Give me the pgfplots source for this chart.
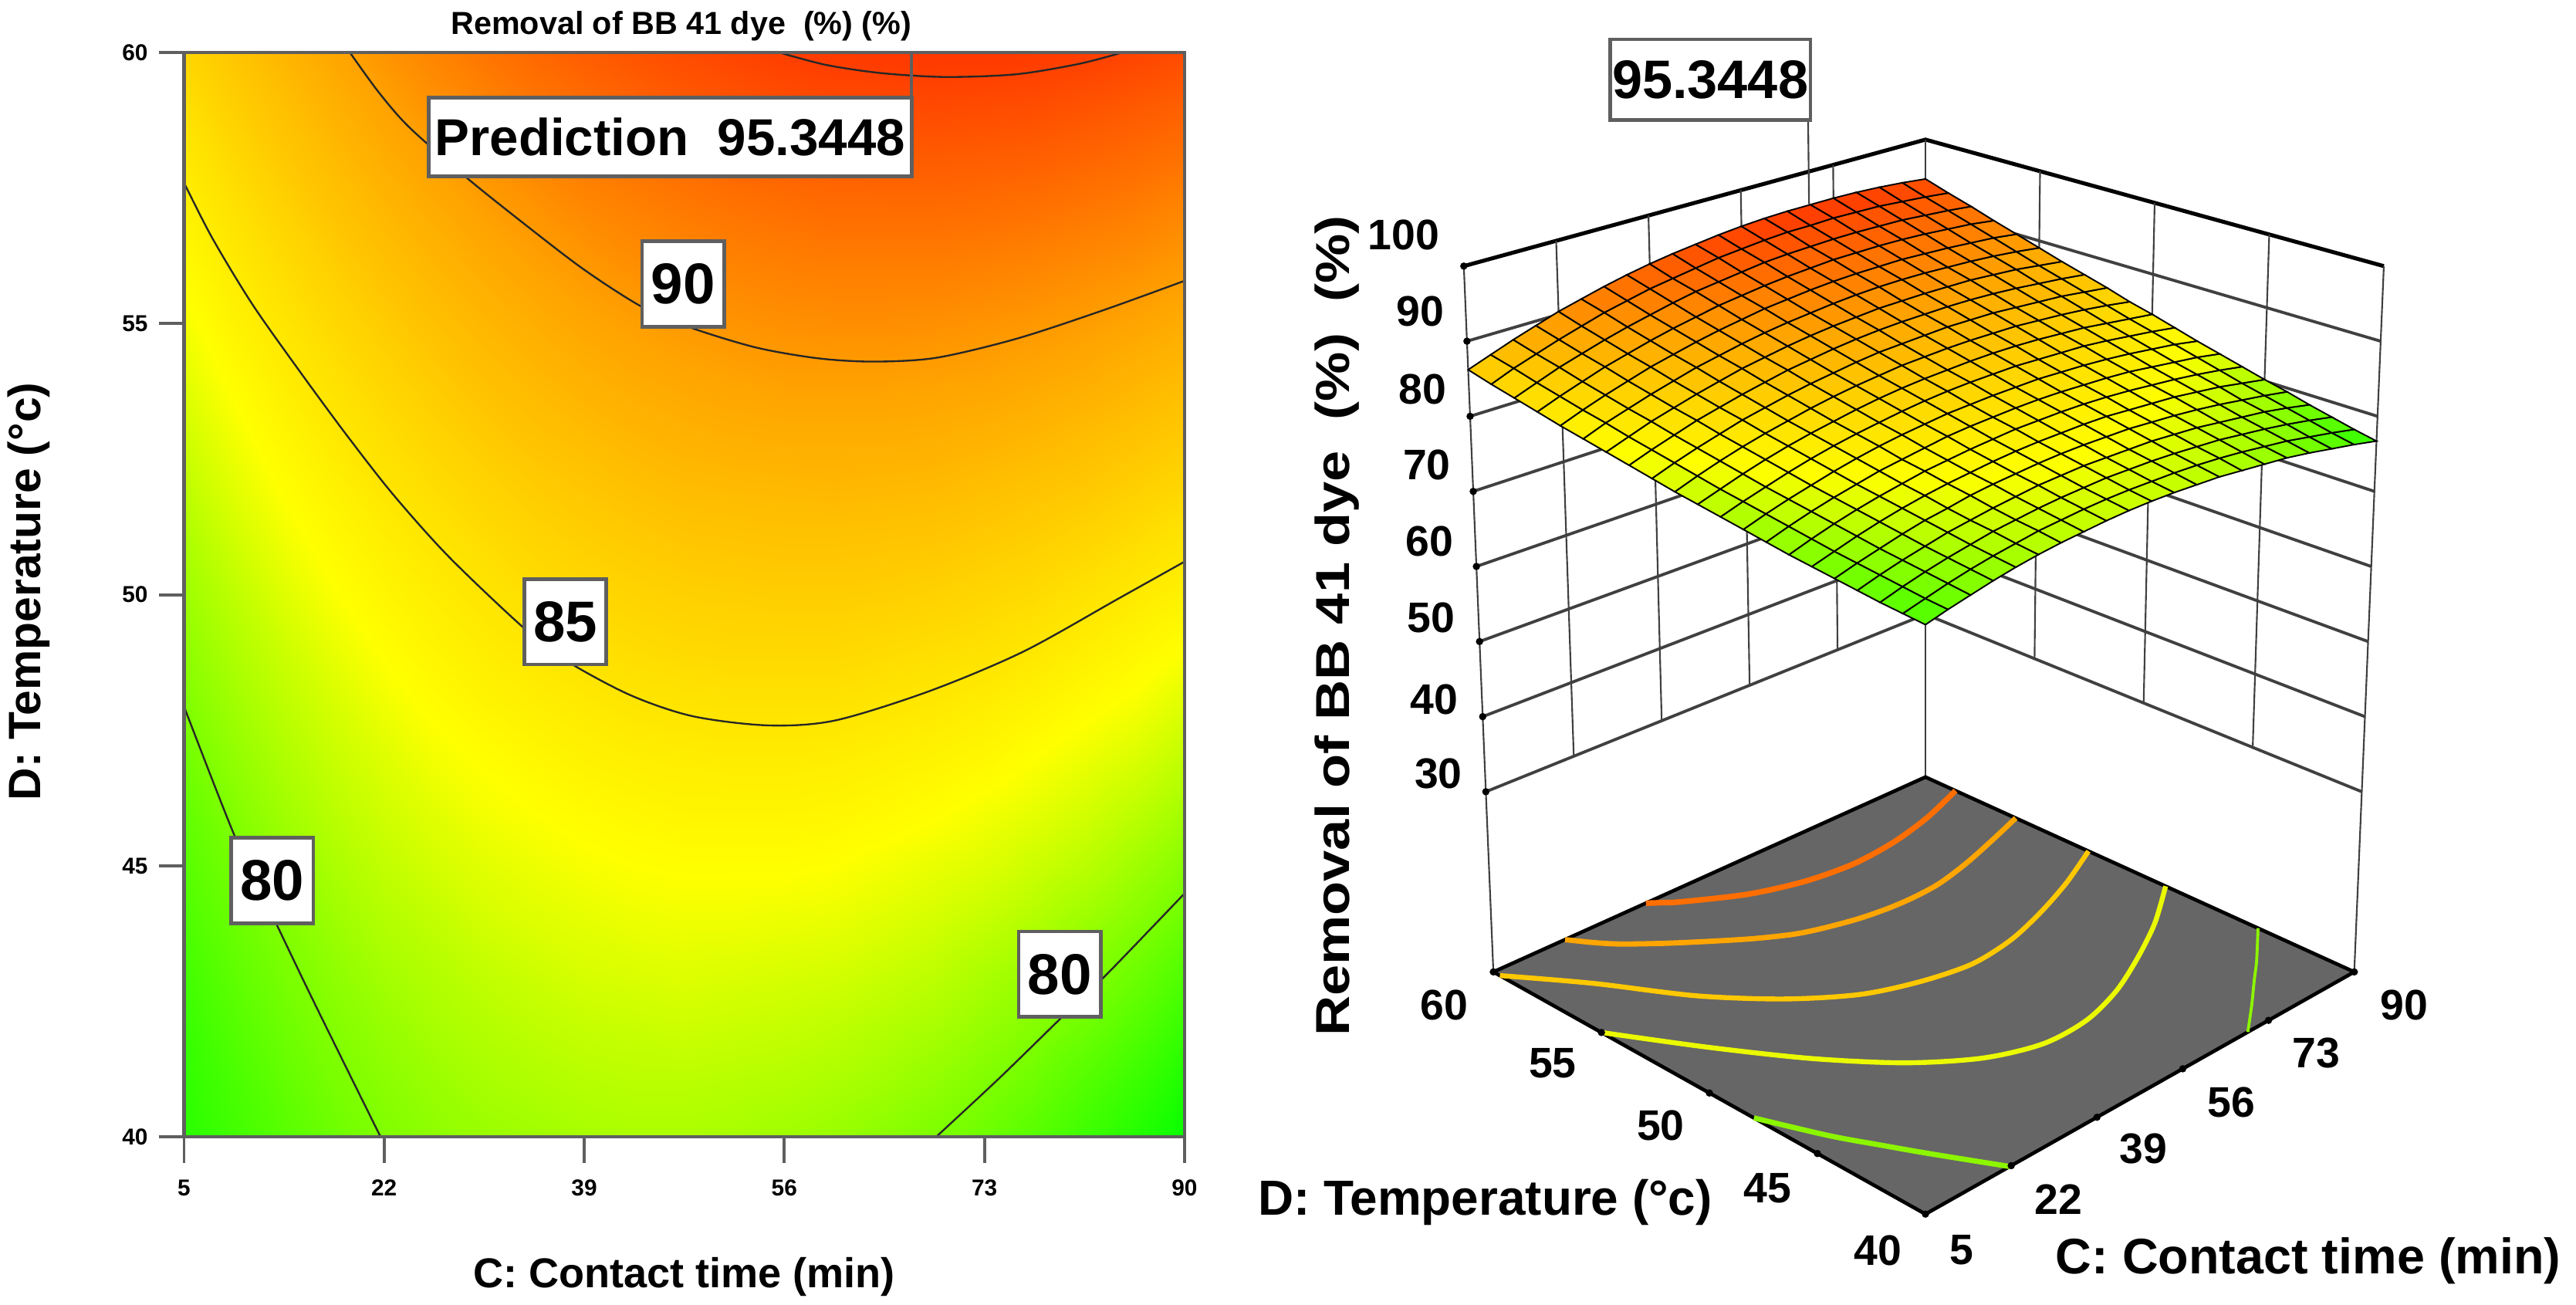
\documentclass[border=0pt]{standalone}
\usepackage{fontspec}
\setmainfont{Liberation Sans}
\usepackage{pgfplots}
\usepackage{pgfplotstable}
\pgfplotsset{compat=1.18}

% response surface: contact time, temperature, removal
\pgfplotstableread[row sep=\\]{
C D R\\
5 40 77.6\\ 9.25 40 78.3\\ 13.5 40 78.9\\ 17.75 40 79.5\\ 22 40 80.0\\ 26.25 40 80.4\\ 30.5 40 80.7\\ 34.75 40 80.9\\ 39 40 81.1\\ 43.25 40 81.2\\ 47.5 40 81.2\\ 51.75 40 81.1\\ 56 40 80.9\\ 60.25 40 80.7\\ 64.5 40 80.3\\ 68.75 40 79.9\\ 73 40 79.5\\ 77.25 40 78.9\\ 81.5 40 78.2\\ 85.75 40 77.5\\ 90 40 76.7\\
5 41 77.8\\ 9.25 41 78.5\\ 13.5 41 79.2\\ 17.75 41 79.8\\ 22 41 80.3\\ 26.25 41 80.7\\ 30.5 41 81.1\\ 34.75 41 81.3\\ 39 41 81.5\\ 43.25 41 81.6\\ 47.5 41 81.6\\ 51.75 41 81.5\\ 56 41 81.4\\ 60.25 41 81.2\\ 64.5 41 80.9\\ 68.75 41 80.5\\ 73 41 80.0\\ 77.25 41 79.5\\ 81.5 41 78.8\\ 85.75 41 78.1\\ 90 41 77.3\\
5 42 78.0\\ 9.25 42 78.8\\ 13.5 42 79.5\\ 17.75 42 80.1\\ 22 42 80.6\\ 26.25 42 81.1\\ 30.5 42 81.4\\ 34.75 42 81.7\\ 39 42 81.9\\ 43.25 42 82.0\\ 47.5 42 82.1\\ 51.75 42 82.0\\ 56 42 81.9\\ 60.25 42 81.7\\ 64.5 42 81.4\\ 68.75 42 81.1\\ 73 42 80.6\\ 77.25 42 80.1\\ 81.5 42 79.5\\ 85.75 42 78.8\\ 90 42 78.0\\
5 43 78.3\\ 9.25 43 79.1\\ 13.5 43 79.8\\ 17.75 43 80.4\\ 22 43 81.0\\ 26.25 43 81.4\\ 30.5 43 81.8\\ 34.75 43 82.1\\ 39 43 82.4\\ 43.25 43 82.5\\ 47.5 43 82.6\\ 51.75 43 82.5\\ 56 43 82.4\\ 60.25 43 82.3\\ 64.5 43 82.0\\ 68.75 43 81.7\\ 73 43 81.2\\ 77.25 43 80.7\\ 81.5 43 80.2\\ 85.75 43 79.5\\ 90 43 78.7\\
5 44 78.6\\ 9.25 44 79.4\\ 13.5 44 80.1\\ 17.75 44 80.8\\ 22 44 81.4\\ 26.25 44 81.8\\ 30.5 44 82.3\\ 34.75 44 82.6\\ 39 44 82.8\\ 43.25 44 83.0\\ 47.5 44 83.1\\ 51.75 44 83.1\\ 56 44 83.0\\ 60.25 44 82.9\\ 64.5 44 82.6\\ 68.75 44 82.3\\ 73 44 81.9\\ 77.25 44 81.4\\ 81.5 44 80.8\\ 85.75 44 80.2\\ 90 44 79.5\\
5 45 78.9\\ 9.25 45 79.7\\ 13.5 45 80.5\\ 17.75 45 81.2\\ 22 45 81.8\\ 26.25 45 82.3\\ 30.5 45 82.7\\ 34.75 45 83.0\\ 39 45 83.3\\ 43.25 45 83.5\\ 47.5 45 83.6\\ 51.75 45 83.6\\ 56 45 83.6\\ 60.25 45 83.5\\ 64.5 45 83.2\\ 68.75 45 82.9\\ 73 45 82.6\\ 77.25 45 82.1\\ 81.5 45 81.6\\ 85.75 45 80.9\\ 90 45 80.2\\
5 46 79.2\\ 9.25 46 80.1\\ 13.5 46 80.9\\ 17.75 46 81.6\\ 22 46 82.2\\ 26.25 46 82.7\\ 30.5 46 83.2\\ 34.75 46 83.5\\ 39 46 83.8\\ 43.25 46 84.0\\ 47.5 46 84.2\\ 51.75 46 84.2\\ 56 46 84.2\\ 60.25 46 84.1\\ 64.5 46 83.9\\ 68.75 46 83.6\\ 73 46 83.2\\ 77.25 46 82.8\\ 81.5 46 82.3\\ 85.75 46 81.7\\ 90 46 81.0\\
5 47 79.6\\ 9.25 47 80.5\\ 13.5 47 81.3\\ 17.75 47 82.0\\ 22 47 82.6\\ 26.25 47 83.2\\ 30.5 47 83.6\\ 34.75 47 84.0\\ 39 47 84.4\\ 43.25 47 84.6\\ 47.5 47 84.7\\ 51.75 47 84.8\\ 56 47 84.8\\ 60.25 47 84.7\\ 64.5 47 84.5\\ 68.75 47 84.3\\ 73 47 84.0\\ 77.25 47 83.5\\ 81.5 47 83.0\\ 85.75 47 82.5\\ 90 47 81.8\\
5 48 80.0\\ 9.25 48 80.9\\ 13.5 48 81.7\\ 17.75 48 82.4\\ 22 48 83.1\\ 26.25 48 83.7\\ 30.5 48 84.2\\ 34.75 48 84.6\\ 39 48 84.9\\ 43.25 48 85.2\\ 47.5 48 85.3\\ 51.75 48 85.4\\ 56 48 85.4\\ 60.25 48 85.4\\ 64.5 48 85.2\\ 68.75 48 85.0\\ 73 48 84.7\\ 77.25 48 84.3\\ 81.5 48 83.8\\ 85.75 48 83.3\\ 90 48 82.6\\
5 49 80.4\\ 9.25 49 81.3\\ 13.5 49 82.1\\ 17.75 49 82.9\\ 22 49 83.6\\ 26.25 49 84.2\\ 30.5 49 84.7\\ 34.75 49 85.1\\ 39 49 85.5\\ 43.25 49 85.8\\ 47.5 49 86.0\\ 51.75 49 86.1\\ 56 49 86.1\\ 60.25 49 86.1\\ 64.5 49 85.9\\ 68.75 49 85.7\\ 73 49 85.5\\ 77.25 49 85.1\\ 81.5 49 84.6\\ 85.75 49 84.1\\ 90 49 83.5\\
5 50 80.8\\ 9.25 50 81.7\\ 13.5 50 82.6\\ 17.75 50 83.4\\ 22 50 84.1\\ 26.25 50 84.7\\ 30.5 50 85.2\\ 34.75 50 85.7\\ 39 50 86.1\\ 43.25 50 86.4\\ 47.5 50 86.6\\ 51.75 50 86.7\\ 56 50 86.8\\ 60.25 50 86.8\\ 64.5 50 86.7\\ 68.75 50 86.5\\ 73 50 86.2\\ 77.25 50 85.9\\ 81.5 50 85.4\\ 85.75 50 84.9\\ 90 50 84.4\\
5 51 81.2\\ 9.25 51 82.2\\ 13.5 51 83.1\\ 17.75 51 83.9\\ 22 51 84.6\\ 26.25 51 85.2\\ 30.5 51 85.8\\ 34.75 51 86.3\\ 39 51 86.7\\ 43.25 51 87.0\\ 47.5 51 87.3\\ 51.75 51 87.4\\ 56 51 87.5\\ 60.25 51 87.5\\ 64.5 51 87.4\\ 68.75 51 87.3\\ 73 51 87.0\\ 77.25 51 86.7\\ 81.5 51 86.3\\ 85.75 51 85.8\\ 90 51 85.2\\
5 52 81.7\\ 9.25 52 82.7\\ 13.5 52 83.6\\ 17.75 52 84.4\\ 22 52 85.2\\ 26.25 52 85.8\\ 30.5 52 86.4\\ 34.75 52 86.9\\ 39 52 87.3\\ 43.25 52 87.7\\ 47.5 52 88.0\\ 51.75 52 88.1\\ 56 52 88.2\\ 60.25 52 88.3\\ 64.5 52 88.2\\ 68.75 52 88.1\\ 73 52 87.8\\ 77.25 52 87.5\\ 81.5 52 87.2\\ 85.75 52 86.7\\ 90 52 86.2\\
5 53 82.2\\ 9.25 53 83.2\\ 13.5 53 84.1\\ 17.75 53 85.0\\ 22 53 85.7\\ 26.25 53 86.4\\ 30.5 53 87.0\\ 34.75 53 87.6\\ 39 53 88.0\\ 43.25 53 88.4\\ 47.5 53 88.7\\ 51.75 53 88.9\\ 56 53 89.0\\ 60.25 53 89.0\\ 64.5 53 89.0\\ 68.75 53 88.9\\ 73 53 88.7\\ 77.25 53 88.4\\ 81.5 53 88.0\\ 85.75 53 87.6\\ 90 53 87.1\\
5 54 82.7\\ 9.25 54 83.7\\ 13.5 54 84.7\\ 17.75 54 85.5\\ 22 54 86.3\\ 26.25 54 87.0\\ 30.5 54 87.7\\ 34.75 54 88.2\\ 39 54 88.7\\ 43.25 54 89.1\\ 47.5 54 89.4\\ 51.75 54 89.6\\ 56 54 89.8\\ 60.25 54 89.8\\ 64.5 54 89.8\\ 68.75 54 89.7\\ 73 54 89.6\\ 77.25 54 89.3\\ 81.5 54 89.0\\ 85.75 54 88.5\\ 90 54 88.0\\
5 55 83.2\\ 9.25 55 84.3\\ 13.5 55 85.2\\ 17.75 55 86.1\\ 22 55 86.9\\ 26.25 55 87.7\\ 30.5 55 88.3\\ 34.75 55 88.9\\ 39 55 89.4\\ 43.25 55 89.8\\ 47.5 55 90.1\\ 51.75 55 90.4\\ 56 55 90.6\\ 60.25 55 90.7\\ 64.5 55 90.7\\ 68.75 55 90.6\\ 73 55 90.4\\ 77.25 55 90.2\\ 81.5 55 89.9\\ 85.75 55 89.5\\ 90 55 89.0\\
5 56 83.7\\ 9.25 56 84.8\\ 13.5 56 85.8\\ 17.75 56 86.7\\ 22 56 87.6\\ 26.25 56 88.3\\ 30.5 56 89.0\\ 34.75 56 89.6\\ 39 56 90.1\\ 43.25 56 90.6\\ 47.5 56 90.9\\ 51.75 56 91.2\\ 56 56 91.4\\ 60.25 56 91.5\\ 64.5 56 91.5\\ 68.75 56 91.5\\ 73 56 91.3\\ 77.25 56 91.1\\ 81.5 56 90.8\\ 85.75 56 90.5\\ 90 56 90.0\\
5 57 84.3\\ 9.25 57 85.4\\ 13.5 57 86.4\\ 17.75 57 87.4\\ 22 57 88.2\\ 26.25 57 89.0\\ 30.5 57 89.7\\ 34.75 57 90.3\\ 39 57 90.9\\ 43.25 57 91.3\\ 47.5 57 91.7\\ 51.75 57 92.0\\ 56 57 92.2\\ 60.25 57 92.4\\ 64.5 57 92.4\\ 68.75 57 92.4\\ 73 57 92.3\\ 77.25 57 92.1\\ 81.5 57 91.8\\ 85.75 57 91.5\\ 90 57 91.0\\
5 58 84.9\\ 9.25 58 86.0\\ 13.5 58 87.1\\ 17.75 58 88.0\\ 22 58 88.9\\ 26.25 58 89.7\\ 30.5 58 90.4\\ 34.75 58 91.1\\ 39 58 91.7\\ 43.25 58 92.1\\ 47.5 58 92.5\\ 51.75 58 92.9\\ 56 58 93.1\\ 60.25 58 93.2\\ 64.5 58 93.3\\ 68.75 58 93.3\\ 73 58 93.2\\ 77.25 58 93.1\\ 81.5 58 92.8\\ 85.75 58 92.5\\ 90 58 92.1\\
5 59 85.5\\ 9.25 59 86.7\\ 13.5 59 87.7\\ 17.75 59 88.7\\ 22 59 89.6\\ 26.25 59 90.5\\ 30.5 59 91.2\\ 34.75 59 91.9\\ 39 59 92.4\\ 43.25 59 92.9\\ 47.5 59 93.4\\ 51.75 59 93.7\\ 56 59 94.0\\ 60.25 59 94.2\\ 64.5 59 94.2\\ 68.75 59 94.3\\ 73 59 94.2\\ 77.25 59 94.1\\ 81.5 59 93.8\\ 85.75 59 93.5\\ 90 59 93.1\\
5 60 86.2\\ 9.25 60 87.3\\ 13.5 60 88.4\\ 17.75 60 89.4\\ 22 60 90.4\\ 26.25 60 91.2\\ 30.5 60 92.0\\ 34.75 60 92.7\\ 39 60 93.3\\ 43.25 60 93.8\\ 47.5 60 94.2\\ 51.75 60 94.6\\ 56 60 94.9\\ 60.25 60 95.1\\ 64.5 60 95.2\\ 68.75 60 95.2\\ 73 60 95.2\\ 77.25 60 95.1\\ 81.5 60 94.9\\ 85.75 60 94.6\\ 90 60 94.2\\
}\surfdata

% contour lines
\pgfplotstableread{
C D R
19.1 60 90
21.5 59.28 90
24.1 58.63 90
28.8 57.73 90
33.5 56.91 90
38.9 56.01 90
43.9 55.31 90
48 54.93 90
53.6 54.56 90
58.9 54.36 90
63.6 54.3 90
68.9 54.37 90
75.7 54.72 90
83 55.24 90
90 55.79 90
}\ctninety
\pgfplotstableread{
C D R
5 47.94 80
9.4 45.5 80
12.8 43.95 80
16.1 42.46 80
21.7 40 80
}\cteightyL
\pgfplotstableread{
C D R
68.9 40 80
74.3 41.09 80
79.5 42.19 80
83.4 43 80
90 44.49 80
}\cteightyR

\definecolor{framegray}{RGB}{95,95,95}
\definecolor{floorgray}{RGB}{102,102,102}

% corners of the box of the 3-D panel, in pixels of the picture
\tikzset{declare function={
  ss(\x)=(\x-5)/85;
  tt(\y)=(\y-40)/20;
  hh(\z)=(\z-6)/94;
  pu(\x,\y,\z)=1172+ss(\x)*(1-tt(\y))*(261+18*hh(\z))-(1-ss(\x))*tt(\y)*(263+18*hh(\z));
  pv(\x,\y,\z)=794-((1-ss(\x))*(1-tt(\y))*(739-471*hh(\z))+(ss(\x)*(1-tt(\y))+(1-ss(\x))*tt(\y))*(591.6-429.6*hh(\z))+ss(\x)*tt(\y)*(473-388*hh(\z)));
},
  box/.style={draw=framegray,line width=1.1pt,fill=white,text=black,inner sep=0pt,font=\bfseries\fontsize{17.5}{18}\selectfont,minimum width=25pt,minimum height=26pt},
}
\pgfplotsset{
  /pgfplots/table/proj/.style={
    x expr={pu(\thisrow{C},\thisrow{D},\thisrow{R})},
    y expr={pv(\thisrow{C},\thisrow{D},\thisrow{R})},
    z=R},
  /pgfplots/table/onfloor/.style={
    x expr={pu(\thisrow{C},\thisrow{D},6)},
    y expr={pv(\thisrow{C},\thisrow{D},6)},
    z=R},
  colormap={removal}{rgb255(0pt)=(0,255,0) rgb255(7pt)=(255,255,0) rgb255(13pt)=(255,165,0) rgb255(19pt)=(255,50,0)},
  wall/.style={black!75,line width=0.9pt,mark=none,forget plot},
  post/.style={black!75,line width=0.5pt,mark=none,forget plot},
  dots/.style={only marks,mark=*,mark size=0.9pt,black,forget plot},
  ctr/.style={black!85,line width=0.55pt,smooth,mark=none,forget plot},
  tk/.style={framegray,line width=0.9pt,mark=none,forget plot},
}
\newcommand{\tl}[1]{\bfseries\fontsize{#1}{#1}\selectfont}

\begin{document}
\begin{tikzpicture}
\path[use as bounding box] (0,0) rectangle (784pt,397pt);

% 2-D contour panel
\begin{axis}[
  at={(56pt,51pt)},anchor=south west,
  scale only axis,width=304.5pt,height=330pt,
  xmin=5,xmax=90,ymin=40,ymax=60,
  xtick={5,22,39,56,73,90},ytick={40,45,50,55,60},
  xtick pos=bottom,ytick pos=left,
  tick align=outside,
  major tick length=7.5pt,
  axis on top,
  clip=false,
  axis line style={framegray,line width=1pt},
  tick style={framegray,line width=0.9pt},
  tick label style={font=\tl{7},/pgf/number format/assume math mode=true},
  xticklabel style={yshift=-2pt},
  point meta min=0,point meta max=19,
  colormap name=removal,
  title={Removal of BB 41 dye\ \ (\%) (\%)},
  title style={font=\tl{9.7},at={(axis description cs:0.497,1)},anchor=center,yshift=2pt,inner sep=0pt},
  xlabel={C: Contact time (min)},
  xlabel style={font=\tl{12.7},at={(axis description cs:0.5,-0.129)},anchor=center},
  ylabel={D: Temperature (°c)},
  ylabel style={font=\tl{13.8},at={(axis description cs:-0.155,0.503)},anchor=center},
]
\addplot[surf,shader=interp,mesh/rows=21,point meta={\thisrow{R}-76.5}]
  table[x=C,y=D] {\surfdata};
\addplot[ctr] table[x=C,y=D] {\ctninety};
\addplot[ctr] table[x=C,y=D] {\cteightyL};
\addplot[ctr] table[x=C,y=D] {\cteightyR};
\addplot[ctr] table[x=C,y=D] {
C D R
55.6 60 95
59.6 59.77 95
64.3 59.62 95
69.7 59.55 95
75.7 59.6 95
81 59.79 95
84.7 60 95
};
\addplot[ctr] table[x=C,y=D] {
C D R
5 57.6 85
7.4 56.58 85
10.8 55.36 85
14.8 54.13 85
18.8 52.95 85
22.8 51.84 85
27.5 50.7 85
33.8 49.4 85
37.5 48.78 85
42.9 48.15 85
48.2 47.76 85
54.6 47.59 85
60.3 47.68 85
68.3 48.22 85
76.3 48.95 85
84.4 49.93 85
90 50.61 85
};
\addplot[framegray,line width=1pt,mark=none,forget plot] table[x=C,y=D] {
C D R
66.8 60 95.34
66.8 59.15 95.34
};
\node[box] at (axis cs:47.4,55.73) {90};
\node[box] at (axis cs:37.4,49.5) {85};
\node[box] at (axis cs:12.5,44.73) {80};
\node[box] at (axis cs:79.4,43) {80};
\node[box,minimum width=147pt,minimum height=24pt,font=\bfseries\fontsize{15.8}{16}\selectfont] at (axis cs:46.3,58.44) {Prediction\ \ 95.3448};
\end{axis}

% 3-D panel: the box is carried to the page by pu and pv
\begin{axis}[
  at={(0pt,0pt)},anchor=south west,
  scale only axis,width=784pt,height=397pt,
  view={0}{90},hide axis,clip=false,
  xmin=0,xmax=1568,ymin=0,ymax=794,
  point meta min=0,point meta max=20,
  colormap name=removal,
]
% tick strokes of the contour panel, drawn last so that nothing covers them
\pgfplotsinvokeforeach{112,233.8,355.6,477.4,599.2,721}{
  \addplot3[tk] table[x=U,y=V,z=R,row sep=\\] {U V R\\ #1 102 0\\ #1 86 0\\};
}
\pgfplotsinvokeforeach{102,267,432,597,762}{
  \addplot3[tk] table[x=U,y=V,z=R,row sep=\\] {U V R\\ 112 #1 0\\ 98 #1 0\\};
}
\pgfplotsinvokeforeach{30,40,50,60,70,80,90}{
  \addplot3[wall] table[proj,row sep=\\] {C D R\\ 5 60 #1\\ 90 60 #1\\ 90 40 #1\\};
}
\addplot3[wall,black,line width=1.2pt] table[proj] {
C D R
5 60 100
90 60 100
90 40 100
};
\pgfplotsinvokeforeach{22,39,56,73}{
  \addplot3[post] table[proj,row sep=\\] {C D R\\ #1 60 30\\ #1 60 100\\};
}
\pgfplotsinvokeforeach{45,50,55}{
  \addplot3[post] table[proj,row sep=\\] {C D R\\ 90 #1 30\\ 90 #1 100\\};
}
\addplot3[post] table[proj] {
C D R
5 60 6
5 60 100
};
\addplot3[post] table[proj] {
C D R
90 60 6
90 60 100
};
\addplot3[post] table[proj] {
C D R
90 40 6
90 40 100
};
\addplot3[dots] table[proj] {
C D R
5 60 30
5 60 40
5 60 50
5 60 60
5 60 70
5 60 80
5 60 90
5 60 100
};
% floor and its contours
\addplot3[fill=floorgray,draw=black,line width=1.1pt,forget plot] table[onfloor] {
C D R
5 40 6
90 40 6
90 60 6
5 60 6
5 40 6
};
\addplot3[dots] table[onfloor] {
C D R
5 40 6
5 45 6
5 50 6
5 55 6
5 60 6
22 40 6
39 40 6
56 40 6
73 40 6
90 40 6
};
\addplot3[smooth,line width=1.7pt,color={rgb,255:red,255;green,110;blue,0},forget plot] table[onfloor] {
C D R
35 60 92.7
36.9 59.66 92.7
39 59.3 92.7
47.5 58.2 92.7
56 57.55 92.7
64.5 57.3 92.7
73 57.45 92.7
81.5 57.9 92.7
90 58.6 92.7
};
\addplot3[smooth,line width=1.6pt,color={rgb,255:red,255;green,165;blue,0},forget plot] table[onfloor] {\ctninety};
\addplot3[smooth,line width=1.5pt,color={rgb,255:red,255;green,200;blue,0},forget plot] table[onfloor] {
C D R
5 59.7 86.7
13.5 57.4 86.7
22 54.6 86.7
30.5 52.5 86.7
39 51 86.7
47.5 50.2 86.7
56 49.8 86.7
64.5 50 86.7
73 50.6 86.7
81.5 51.4 86.7
90 52.4 86.7
};
\addplot3[smooth,line width=1.5pt,color={rgb,255:red,235;green,250;blue,0},forget plot] table[onfloor] {
C D R
5 55 83.3
13.5 52 83.3
22 49.2 83.3
30.5 46.9 83.3
39 45.3 83.3
47.5 44.5 83.3
56 44.5 83.3
64.5 45.1 83.3
73 46.1 83.3
81.5 47.3 83.3
90 48.8 83.3
};
\addplot3[smooth,line width=1.6pt,color={rgb,255:red,140;green,245;blue,0},forget plot] table[onfloor] {\cteightyL};
\addplot3[smooth,line width=0.9pt,color={rgb,255:red,140;green,245;blue,0},forget plot] table[onfloor] {\cteightyR};
% leader of the prediction
\addplot3[post] table[proj] {
C D R
68.5 60 95.34
68.5 60 107.4
};
% surface
\addplot3[surf,shader=faceted,faceted color=black,line width=0.45pt,mesh/rows=21,point meta={\thisrow{R}-75.5}]
  table[proj] {\surfdata};

\node[box,minimum width=61pt,minimum height=24.5pt,font=\bfseries\fontsize{16.5}{17}\selectfont] at (axis cs:1041,745.5) {95.3448};
\node[font=\tl{13}] at (axis cs:854.5,651) {100};
\node[font=\tl{13}] at (axis cs:864.5,604.4) {90};
\node[font=\tl{13}] at (axis cs:866,557) {80};
\node[font=\tl{13}] at (axis cs:868.5,511) {70};
\node[font=\tl{13}] at (axis cs:870,464.5) {60};
\node[font=\tl{13}] at (axis cs:871,418) {50};
\node[font=\tl{13}] at (axis cs:873,368) {40};
\node[font=\tl{13}] at (axis cs:875.5,323) {30};
\node[font=\tl{13}] at (axis cs:879,182.4) {60};
\node[font=\tl{13}] at (axis cs:945,146.6) {55};
\node[font=\tl{13}] at (axis cs:1010.8,108.7) {50};
\node[font=\tl{13}] at (axis cs:1075.9,70.8) {45};
\node[font=\tl{13}] at (axis cs:1143,33) {40};
\node[font=\tl{13}] at (axis cs:1194,33) {5};
\node[font=\tl{13}] at (axis cs:1253,64) {22};
\node[font=\tl{13}] at (axis cs:1304.5,94.7) {39};
\node[font=\tl{13}] at (axis cs:1358,123) {56};
\node[font=\tl{13}] at (axis cs:1410,153.2) {73};
\node[font=\tl{13}] at (axis cs:1463.3,182.4) {90};
\node[font=\tl{15}] at (axis cs:904,62) {D: Temperature (°c)};
\node[font=\tl{15.2}] at (axis cs:1405,26.5) {C: Contact time (min)};
\node[font=\tl{14.5},rotate=90] at (axis cs:814,413) {\scalebox{1.17}[1]{Removal of BB 41 dye\ \ (\%)\ \ (\%)}};
\end{axis}
\end{tikzpicture}
\end{document}
